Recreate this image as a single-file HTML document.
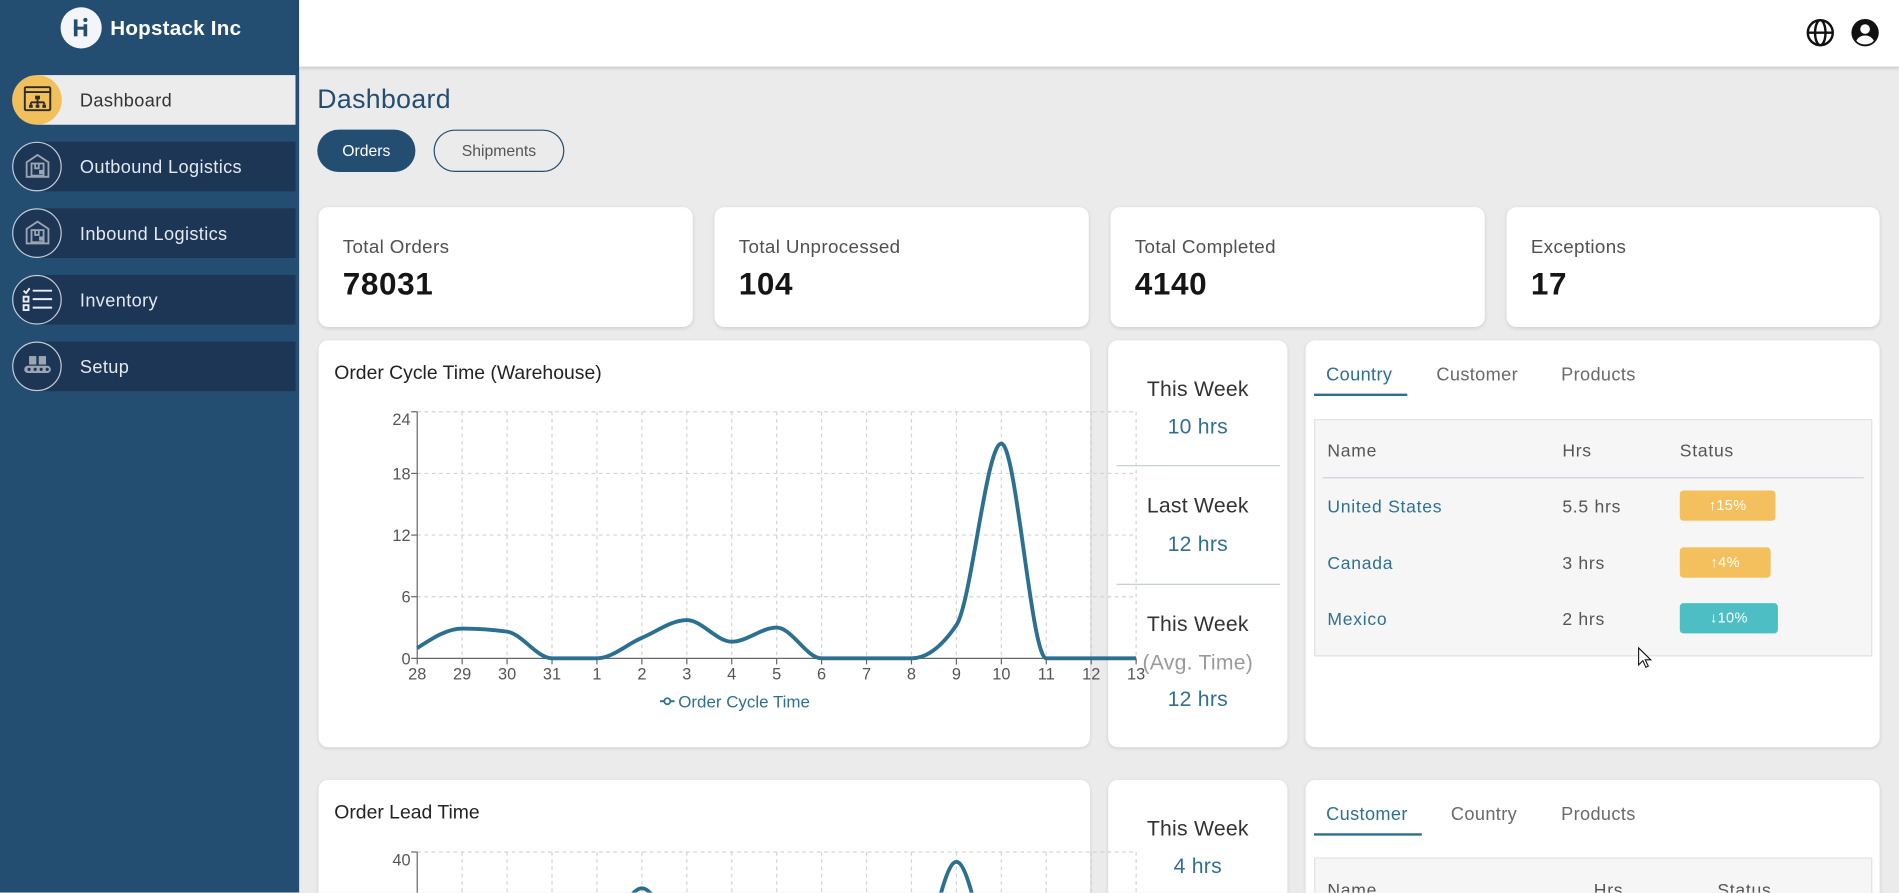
<!DOCTYPE html>
<html><head><meta charset="utf-8">
<style>
*{box-sizing:border-box;margin:0;padding:0}
html,body{width:1899px;height:892px;overflow:hidden;background:#ebebeb;font-family:"Liberation Sans",sans-serif}
#f{position:absolute;left:0;top:0;width:1568px;height:737px;transform:scale(1.21110);transform-origin:0 0;overflow:hidden;background:#ebebeb}
.a{position:absolute}
.side{left:0;top:0;width:247px;height:737px;background:#244d72}
.band{position:absolute;left:31px;width:213px;height:41px;background:#1d3656}
.circ{position:absolute;left:10px;width:41px;height:41px;border-radius:50%;border:1px solid #c3ccd6;background:#1d3656}
.mlab{position:absolute;left:66px;font-size:15px;line-height:20px;color:#e4e9ef;letter-spacing:0.3px}
.card{position:absolute;background:#fff;border-radius:8px;box-shadow:0 1px 3px rgba(0,0,0,.12)}
.slab{position:absolute;left:20px;top:24px;font-size:15.5px;line-height:20px;color:#505050;letter-spacing:0.3px}
.sval{position:absolute;left:20px;top:48px;font-size:26px;line-height:30px;font-weight:bold;color:#151515;letter-spacing:0.5px}
.mid{text-align:center;position:absolute;left:0;width:148px;font-size:17.5px;line-height:22px;color:#333;letter-spacing:0.2px}
.mv{color:#30708f}
.div{position:absolute;left:7px;width:135px;height:1px;background:#c5ced6}
.tab{position:absolute;font-size:15px;line-height:20px;color:#6a6a6a;letter-spacing:0.3px}
.tab.on{color:#30708f}
.tbl{position:absolute;font-size:14.5px;line-height:20px;letter-spacing:0.6px}
.badge{position:absolute;border-radius:3px;color:#fff;font-size:12px;line-height:24px;text-align:center;letter-spacing:0.3px}
</style></head><body>
<div id="f">
<!-- sidebar -->
<div class="a side"></div>
<div class="a" style="left:50px;top:6px;width:34px;height:34px;border-radius:50%;background:#f3f5f8"></div>
<svg class="a" style="left:50px;top:6px" width="34" height="34" viewBox="0 0 34 34">
<rect x="11" y="10" width="3" height="14" fill="#244d72"/><rect x="11" y="16" width="9" height="2.5" fill="#244d72"/><rect x="19" y="14" width="3" height="10" fill="#244d72"/><circle cx="20.5" cy="10.5" r="1.7" fill="#244d72"/>
</svg>
<div class="a" style="left:91px;top:13px;font-size:17px;line-height:22px;font-weight:bold;color:#fff;letter-spacing:0.2px">Hopstack Inc</div>

<div class="band" style="top:62px;background:#ececec"></div>
<div class="circ" style="top:61.5px;background:#f2c05a;border:none"></div>
<svg class="a" style="left:19px;top:70px" width="24" height="24" viewBox="0 0 24 24" fill="none" stroke="#2b2b2b" stroke-width="1.6">
<rect x="1.5" y="2" width="21" height="19" rx="1"/><line x1="1.5" y1="6" x2="22.5" y2="6"/>
<rect x="10" y="9" width="4" height="3" fill="#2b2b2b" stroke="none"/><path d="M12 12v2.5M6.5 14.5h11M6.5 14.5v2M12 14.5v2M17.5 14.5v2"/>
<rect x="5" y="16.5" width="3" height="2.5" fill="#2b2b2b" stroke="none"/><rect x="10.5" y="16.5" width="3" height="2.5" fill="#2b2b2b" stroke="none"/><rect x="16" y="16.5" width="3" height="2.5" fill="#2b2b2b" stroke="none"/>
</svg>
<div class="mlab" style="top:74px;color:#333">Dashboard</div>

<div class="band" style="top:117px"></div>
<div class="circ" style="top:116.5px"></div>
<svg class="a" style="left:20px;top:126px" width="22" height="22" viewBox="0 0 22 22" fill="none" stroke="#9ba6b2" stroke-width="1.5">
<path d="M2 20V8L11 2l9 6v12z"/><rect x="6" y="9" width="10" height="10"/><path d="M9 9v4h3V9"/><rect x="13" y="15" width="2" height="2" fill="#9ba6b2"/>
</svg>
<div class="mlab" style="top:129px">Outbound Logistics</div>

<div class="band" style="top:172px"></div>
<div class="circ" style="top:171.5px"></div>
<svg class="a" style="left:20px;top:181px" width="22" height="22" viewBox="0 0 22 22" fill="none" stroke="#9ba6b2" stroke-width="1.5">
<path d="M2 20V8L11 2l9 6v12z"/><rect x="6" y="9" width="10" height="10"/><path d="M9 9v4h3V9"/><rect x="13" y="15" width="2" height="2" fill="#9ba6b2"/>
</svg>
<div class="mlab" style="top:184px">Inbound Logistics</div>

<div class="band" style="top:227px"></div>
<div class="circ" style="top:226.5px"></div>
<svg class="a" style="left:18px;top:236px" width="26" height="22" viewBox="0 0 26 22" fill="none" stroke="#e8edf2" stroke-width="1.6">
<path d="M1.5 4l2 2 3-4"/><line x1="9" y1="4" x2="25" y2="4"/><rect x="1.5" y="9" width="4" height="4"/><line x1="9" y1="11" x2="25" y2="11"/><rect x="1.5" y="16" width="4" height="4"/><line x1="9" y1="18" x2="25" y2="18"/>
</svg>
<div class="mlab" style="top:239px">Inventory</div>

<div class="band" style="top:282px"></div>
<div class="circ" style="top:281.5px"></div>
<svg class="a" style="left:19px;top:293px" width="24" height="18" viewBox="0 0 24 18" fill="#9ba6b2">
<rect x="5" y="1" width="6" height="7"/><rect x="13" y="1" width="6" height="7"/><rect x="1" y="9" width="22" height="6" rx="3"/>
<circle cx="5" cy="12" r="1.3" fill="#1d3656"/><circle cx="10" cy="12" r="1.3" fill="#1d3656"/><circle cx="15" cy="12" r="1.3" fill="#1d3656"/><circle cx="20" cy="12" r="1.3" fill="#1d3656"/>
</svg>
<div class="mlab" style="top:294px">Setup</div>

<!-- header -->
<div class="a" style="left:247px;top:0;width:1321px;height:55px;background:#fff;box-shadow:0 1px 3px rgba(0,0,0,.18)"></div>
<svg class="a" style="left:1491px;top:15px" width="24" height="24" viewBox="0 0 24 24" fill="none" stroke="#111" stroke-width="2">
<circle cx="12" cy="12" r="10.3"/><ellipse cx="12" cy="12" rx="4.3" ry="10.3"/><line x1="1.7" y1="12" x2="22.3" y2="12"/>
</svg>
<svg class="a" style="left:1528px;top:15px" width="24" height="24" viewBox="0 0 24 24">
<circle cx="12" cy="12" r="11.3" fill="#111"/><circle cx="12" cy="9" r="4" fill="#fff"/><path d="M4.8 18.6c1.5-3 4.2-4.3 7.2-4.3s5.7 1.3 7.2 4.3c-1.8 2-4.3 3-7.2 3s-5.4-1-7.2-3z" fill="#fff"/>
</svg>

<!-- title and buttons -->
<div class="a" style="left:262px;top:69px;font-size:22px;line-height:26px;color:#244d72;letter-spacing:0.3px">Dashboard</div>
<div class="a" style="left:262px;top:107px;width:81px;height:35px;border-radius:18px;background:#244d72;color:#fff;font-size:13px;line-height:35px;text-align:center">Orders</div>
<div class="a" style="left:358px;top:107px;width:108px;height:35px;border-radius:18px;border:1px solid #244d72;color:#555;font-size:13px;line-height:33px;text-align:center">Shipments</div>

<!-- stat cards -->
<div class="card" style="left:263px;top:171px;width:309px;height:99px"><div class="slab">Total Orders</div><div class="sval">78031</div></div>
<div class="card" style="left:590px;top:171px;width:309px;height:99px"><div class="slab">Total Unprocessed</div><div class="sval">104</div></div>
<div class="card" style="left:917px;top:171px;width:309px;height:99px"><div class="slab">Total Completed</div><div class="sval">4140</div></div>
<div class="card" style="left:1244px;top:171px;width:308px;height:99px"><div class="slab">Exceptions</div><div class="sval">17</div></div>

<!-- row 1 -->
<div class="card" style="left:263px;top:281px;width:637px;height:336px">
<div class="a" style="left:13px;top:18px;font-size:16px;line-height:20px;color:#222">Order Cycle Time (Warehouse)</div>
</div>
<div class="card" style="left:915px;top:281px;width:148px;height:336px">
<div class="mid" style="top:29px">This Week</div>
<div class="mid mv" style="top:60px">10 hrs</div>
<div class="div" style="top:103px"></div>
<div class="mid" style="top:125px">Last Week</div>
<div class="mid mv" style="top:157px">12 hrs</div>
<div class="div" style="top:201px"></div>
<div class="mid" style="top:223px">This Week</div>
<div class="mid" style="top:255px;color:#9a9a9a">(Avg. Time)</div>
<div class="mid mv" style="top:285px">12 hrs</div>
</div>
<div class="card" style="left:1078px;top:281px;width:474px;height:336px">
<div class="tab on" style="left:17px;top:19px">Country</div>
<div class="tab" style="left:108px;top:19px">Customer</div>
<div class="tab" style="left:211px;top:19px">Products</div>
<div class="a" style="left:7px;top:44px;width:77px;height:2px;background:#30708f"></div>
<div class="a" style="left:7px;top:65px;width:461px;height:196px;background:#f6f6f6;border:1px solid #e2e2e2"></div>
</div>
<div class="tbl a" style="left:1096px;top:363px;color:#555">Name</div>
<div class="tbl a" style="left:1290px;top:363px;color:#555">Hrs</div>
<div class="tbl a" style="left:1387px;top:363px;color:#555">Status</div>
<div class="a" style="left:1092px;top:394px;width:447px;height:1px;background:#cdd3da"></div>
<div class="tbl a" style="left:1096px;top:409px;color:#30708f">United States</div>
<div class="tbl a" style="left:1290px;top:409px;color:#555">5.5 hrs</div>
<div class="badge" style="left:1387px;top:405px;width:79px;height:25px;background:#f3c05d">↑15%</div>
<div class="tbl a" style="left:1096px;top:456px;color:#30708f">Canada</div>
<div class="tbl a" style="left:1290px;top:456px;color:#555">3 hrs</div>
<div class="badge" style="left:1387px;top:452px;width:75px;height:25px;background:#f3c05d">↑4%</div>
<div class="tbl a" style="left:1096px;top:502px;color:#30708f">Mexico</div>
<div class="tbl a" style="left:1290px;top:502px;color:#555">2 hrs</div>
<div class="badge" style="left:1387px;top:498px;width:81px;height:25px;background:#4dbfc4">↓10%</div>

<!-- row 2 -->
<div class="card" style="left:263px;top:644px;width:637px;height:200px">
<div class="a" style="left:13px;top:18px;font-size:16px;line-height:20px;color:#222">Order Lead Time</div>
</div>
<div class="card" style="left:915px;top:644px;width:148px;height:200px">
<div class="mid" style="top:29px">This Week</div>
<div class="mid mv" style="top:60px">4 hrs</div>
</div>
<div class="card" style="left:1078px;top:644px;width:474px;height:200px">
<div class="tab on" style="left:17px;top:19px">Customer</div>
<div class="tab" style="left:120px;top:19px">Country</div>
<div class="tab" style="left:211px;top:19px">Products</div>
<div class="a" style="left:7px;top:44px;width:89px;height:2px;background:#30708f"></div>
<div class="a" style="left:7px;top:64px;width:461px;height:196px;background:#f6f6f6;border:1px solid #e2e2e2"></div>
</div>
<div class="tbl a" style="left:1096px;top:726px;color:#555">Name</div>
<div class="tbl a" style="left:1316px;top:726px;color:#555">Hrs</div>
<div class="tbl a" style="left:1418px;top:726px;color:#555">Status</div>

<!-- charts overlay -->
<svg id="ch" class="a" style="left:0;top:0;overflow:visible" width="1568" height="737" viewBox="0 0 1568 737" font-family="Liberation Sans, sans-serif">
<g id="g1" stroke="#d3d3d3" stroke-width="1" stroke-dasharray="3 3" fill="none"></g>
<g id="ax" stroke="#666" stroke-width="1" fill="none"></g>
<g id="tx" fill="#555" font-size="13.5"></g>
<path id="p1" fill="none" stroke="#2b7090" stroke-width="3.2" stroke-linejoin="round"/>
<path id="p2" fill="none" stroke="#2b7090" stroke-width="3.2" stroke-linejoin="round"/>
<line x1="545" y1="579" x2="557" y2="579" stroke="#2b7090" stroke-width="1.6"/>
<circle cx="551" cy="579" r="2.5" fill="#fff" stroke="#2b7090" stroke-width="1.4"/>
<text x="560" y="584" font-size="14" fill="#30708f">Order Cycle Time</text>
<path d="M1353 535 L1353 549 L1356.5 545.5 L1359 551 L1361 550 L1358.5 544.8 L1363 544.8 Z" fill="#fff" stroke="#111" stroke-width="0.9"/>
</svg>
</div>
<script>
(function(){
var NS="http://www.w3.org/2000/svg";
function el(p,n,a,t){var e=document.createElementNS(NS,n);for(var k in a)e.setAttribute(k,a[k]);if(t!=null)e.textContent=t;p.appendChild(e);return e;}
function mono(P){var n=P.length,t=[],s=[],h=[],i;
for(i=0;i<n-1;i++){h[i]=P[i+1][0]-P[i][0];s[i]=(P[i+1][1]-P[i][1])/h[i];}
for(i=1;i<n-1;i++){var s0=s[i-1],s1=s[i],h0=h[i-1],h1=h[i],p=(s0*h1+s1*h0)/(h0+h1);
t[i]=(Math.sign(s0)+Math.sign(s1))*Math.min(Math.abs(s0),Math.abs(s1),0.5*Math.abs(p))||0;}
t[0]=(3*s[0]-t[1])/2;t[n-1]=(3*s[n-2]-t[n-2])/2;
var d="M"+P[0][0]+","+P[0][1];
for(i=0;i<n-1;i++){var dx=h[i]/3;d+="C"+(P[i][0]+dx)+","+(P[i][1]+dx*t[i])+","+(P[i+1][0]-dx)+","+(P[i+1][1]-dx*t[i+1])+","+P[i+1][0]+","+P[i+1][1];}
return d;}
var g1=document.getElementById("g1"),ax=document.getElementById("ax"),tx=document.getElementById("tx");
var x0=344.5,dx=37.1,labs=["28","29","30","31","1","2","3","4","5","6","7","8","9","10","11","12","13"];
function X(i){return x0+i*dx;}
// chart 1
var y0=543.6,py=50.9/6;
for(var i=1;i<17;i++)el(g1,"line",{x1:X(i),y1:340,x2:X(i),y2:y0});
[6,12,18,24].forEach(function(v){var y=y0-v*py;el(g1,"line",{x1:x0,y1:y,x2:X(16),y2:y});});
el(ax,"line",{x1:x0,y1:340,x2:x0,y2:y0});
el(ax,"line",{x1:x0,y1:y0,x2:X(16),y2:y0});
[0,6,12,18,24].forEach(function(v){var y=y0-v*py;el(ax,"line",{x1:x0-5,y1:y,x2:x0,y2:y});
el(tx,"text",{x:339,y:(v==24?y+11:y+5),"text-anchor":"end"},String(v));});
for(var i=0;i<17;i++){el(ax,"line",{x1:X(i),y1:y0,x2:X(i),y2:y0+5});el(tx,"text",{x:X(i),y:561,"text-anchor":"middle"},labs[i]);}
var d1=[1,2.9,2.6,0,0,2,3.73,1.62,3,0,0,0,3.24,20.9,0,0,0];
document.getElementById("p1").setAttribute("d",mono(d1.map(function(v,i){return [X(i),y0-v*py];})));
// chart 2
var yb=703.5,pb=203.5/40,y02=yb+203.5;
for(var i=1;i<17;i++)el(g1,"line",{x1:X(i),y1:yb,x2:X(i),y2:760});
el(g1,"line",{x1:x0,y1:yb,x2:X(16),y2:yb});
el(ax,"line",{x1:x0,y1:yb,x2:x0,y2:760});
el(ax,"line",{x1:x0-5,y1:yb,x2:x0,y2:yb});
el(tx,"text",{x:339,y:yb+11,"text-anchor":"end"},"40");
var d2=[5,5,5,8,22,34.1,22,8,5,5,5,15,38.4,15,5,5,5];
document.getElementById("p2").setAttribute("d",mono(d2.map(function(v,i){return [X(i),y02-v*pb];})));
})();
</script>
</body></html>
